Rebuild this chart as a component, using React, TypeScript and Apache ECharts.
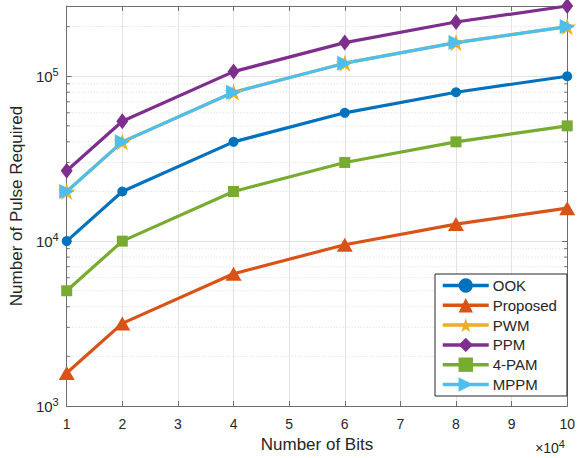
import React, { useEffect, useRef } from "react";
import * as echarts from "echarts";

// Number of bits (×10^4)
const bits = [1, 2, 4, 6, 8, 10];
const ook = [10000, 20000, 40000, 60000, 80000, 100000];
const proposed = [1585, 3170, 6340, 9510, 12680, 15850];
const pwm = [20000, 40000, 80000, 120000, 160000, 200000];
const ppm = [26700, 53300, 106700, 160000, 213300, 266700];
const pam4 = [5000, 10000, 20000, 30000, 40000, 50000];
const mppm = [20000, 40000, 80000, 120000, 160000, 200000];

const yMin = 1000;
const yMax = 266700;
const minorY = [
  2000, 3000, 4000, 5000, 6000, 7000, 8000, 9000,
  20000, 30000, 40000, 50000, 60000, 70000, 80000, 90000,
  200000,
];

const FONT = "Liberation Sans, Arial, Helvetica, sans-serif";
const TXT = "#262626";
const AXIS = "#6e6e6e";

const STAR =
  "path://M10,0L12.245,6.91L19.511,6.91L13.633,11.18L15.878,18.09L10,13.82L4.122,18.09L6.367,11.18L0.489,6.91L7.755,6.91Z";
const RIGHT_TRI = "path://M0,0L10,5L0,10Z";

const pairs = (ys: number[]) => bits.map((x, i) => [x, ys[i]]);

function lineSeries(
  name: string,
  ys: number[],
  color: string,
  symbol: string,
  symbolSize: number | number[]
) {
  return {
    name,
    type: "line",
    data: pairs(ys),
    symbol,
    symbolSize,
    symbolKeepAspect: true,
    showAllSymbol: true,
    lineStyle: { color, width: 3.2 },
    itemStyle: { color, borderColor: color, borderWidth: 0 },
    emphasis: { disabled: true },
  };
}

export default function App() {
  const ref = useRef<HTMLDivElement>(null);

  useEffect(() => {
    if (!ref.current) return;
    const chart = echarts.init(ref.current, undefined, { renderer: "svg" });

    const yLabel = (v: number) => {
      const l = Math.log10(v);
      const e = Math.round(l);
      if (Math.abs(l - e) > 1e-6) return "";
      return `10{sup|${e}}`;
    };

    chart.setOption({
      animation: false,
      textStyle: { fontFamily: FONT },
      grid: { left: 61, right: 10, top: 6, bottom: 51, containLabel: false },
      xAxis: [
        {
          type: "value",
          min: 1,
          max: 10,
          interval: 1,
          name: "Number of Bits",
          nameLocation: "middle",
          nameGap: 30,
          nameTextStyle: { fontSize: 17, color: TXT, fontFamily: FONT },
          axisLine: { show: true, lineStyle: { color: AXIS, width: 1 } },
          axisTick: { show: true, inside: true, length: 5, lineStyle: { color: AXIS } },
          axisLabel: { fontSize: 14, color: TXT, margin: 11, fontFamily: FONT },
          splitLine: { show: true, lineStyle: { color: "#e3e3e3", width: 1 } },
        },
        {
          type: "value",
          position: "top",
          min: 1,
          max: 10,
          interval: 1,
          axisLine: { show: true, lineStyle: { color: AXIS, width: 1 } },
          axisTick: { show: true, inside: true, length: 5, lineStyle: { color: AXIS } },
          axisLabel: { show: false },
          splitLine: { show: false },
        },
      ],
      yAxis: [
        {
          type: "log",
          logBase: 10,
          min: yMin,
          max: yMax,
          name: "Number of Pulse Required",
          nameLocation: "middle",
          nameGap: 36,
          nameTextStyle: { fontSize: 17, color: TXT, fontFamily: FONT },
          axisLine: { show: true, lineStyle: { color: AXIS, width: 1 } },
          axisTick: { show: true, inside: true, length: 5, lineStyle: { color: AXIS } },
          axisLabel: {
            formatter: yLabel,
            color: TXT,
            fontSize: 15,
            margin: 8,
            fontFamily: FONT,
            rich: {
              sup: {
                fontSize: 11,
                color: TXT,
                fontFamily: FONT,
                verticalAlign: "bottom",
                padding: [0, 0, 9, 0],
              },
            },
          },
          splitLine: { show: true, lineStyle: { color: "#e3e3e3", width: 1 } },
        },
        {
          type: "log",
          logBase: 10,
          min: yMin,
          max: yMax,
          position: "right",
          axisLine: { show: true, lineStyle: { color: AXIS, width: 1 } },
          axisTick: { show: true, inside: true, length: 5, lineStyle: { color: AXIS } },
          axisLabel: { show: false },
          splitLine: { show: false },
        },
      ],
      legend: {
        data: ["OOK", "Proposed", "PWM", "PPM", "4-PAM", "MPPM"],
        orient: "vertical",
        left: 435,
        top: 274,
        itemWidth: 46,
        itemHeight: 18,
        itemGap: 4.8,
        padding: [4, 10, 4, 6],
        backgroundColor: "#ffffff",
        borderColor: "#262626",
        borderWidth: 1,
        borderRadius: 0,
        lineStyle: { width: 3.5 },
        textStyle: { fontSize: 15, color: TXT, fontFamily: FONT, padding: [0, 0, 0, -1] },
        selectedMode: false,
      },
      graphic: [
        {
          type: "text",
          right: 13,
          top: 438,
          style: {
            text: "×10{s|4}",
            fill: TXT,
            font: `14px ${FONT}`,
            rich: {
              s: { fontSize: 11, fill: TXT, verticalAlign: "bottom", padding: [0, 0, 9, 0] },
            },
          },
        },
      ],
      series: [
        {
          // minor decade grid lines and ticks
          type: "custom",
          name: "minor",
          silent: true,
          z: 0,
          data: minorY.map((v) => [1, v]),
          renderItem: (params: any, api: any) => {
            const v = api.value(1);
            const a = api.coord([1, v]);
            const b = api.coord([10, v]);
            const lineStyle = { stroke: "#d9d9d9", lineWidth: 1, lineDash: [1, 2] };
            const tick = { stroke: AXIS, lineWidth: 1 };
            return {
              type: "group",
              children: [
                { type: "line", shape: { x1: a[0], y1: a[1], x2: b[0], y2: b[1] }, style: lineStyle },
                { type: "line", shape: { x1: a[0], y1: a[1], x2: a[0] + 3, y2: a[1] }, style: tick },
                { type: "line", shape: { x1: b[0], y1: b[1], x2: b[0] - 3, y2: b[1] }, style: tick },
              ],
            };
          },
        },
        lineSeries("OOK", ook, "#0072BD", "circle", 10),
        lineSeries("Proposed", proposed, "#D95319", "triangle", [16, 14]),
        lineSeries("PWM", pwm, "#EDB120", STAR, 18),
        lineSeries("PPM", ppm, "#7E2F8E", "diamond", [12, 16]),
        lineSeries("4-PAM", pam4, "#77AC30", "rect", 11),
        lineSeries("MPPM", mppm, "#4DBEEE", RIGHT_TRI, 15),
      ],
    });

    return () => chart.dispose();
  }, []);

  return (
    <div
      ref={ref}
      style={{ position: "absolute", left: 0, top: 0, width: 578, height: 458 }}
    />
  );
}
